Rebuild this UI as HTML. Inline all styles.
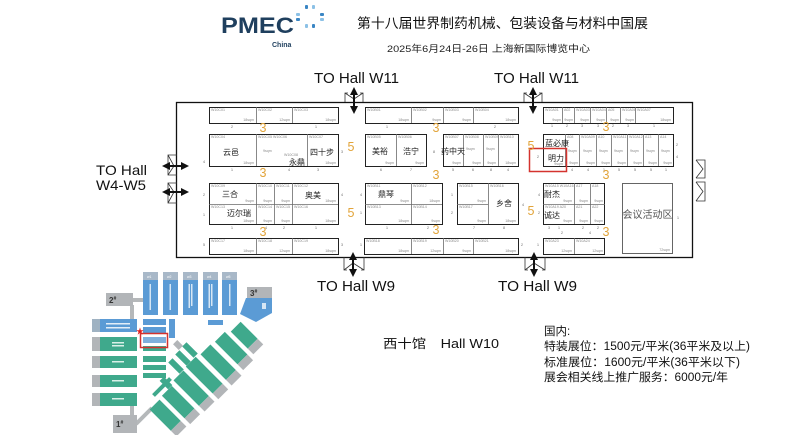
<!DOCTYPE html>
<html><head><meta charset="utf-8">
<style>
html,body{margin:0;padding:0;background:#fff;}
svg{display:block;}
text{font-family:"Liberation Sans","Noto Sans CJK SC",sans-serif;}
.t{font-size:3.6px;fill:#8a8a8a;}
.s{font-size:3.6px;fill:#8a8a8a;text-anchor:end;}
.n{font-size:4px;fill:#777;text-anchor:middle;}
.c{font-size:8px;fill:#222;text-anchor:middle;}
.o{font-size:12.5px;fill:#e2a43a;text-anchor:middle;}
.b{fill:none;stroke:#222;stroke-width:1;}
.d{stroke:#6a6a6a;stroke-width:0.8;}
.ar{stroke:#111;stroke-width:2;}
.br{fill:none;stroke:#333;stroke-width:0.8;}
.g{fill:#3fa98c;}
.bl{fill:#5b9bd5;}
.gr{fill:#b2b5b8;}
.mt{font-size:3.5px;fill:#fff;}
</style></head><body>
<svg width="797" height="435" viewBox="0 0 797 435" xmlns="http://www.w3.org/2000/svg">
<rect width="797" height="435" fill="#fff"/>

<!-- Header -->
<text x="221" y="33" font-size="22" font-weight="bold" fill="#1f3f5e" textLength="73" lengthAdjust="spacingAndGlyphs">PMEC</text>
<text x="272" y="47" font-size="7" font-weight="bold" fill="#1f3f5e">China</text>
<g>
<rect x="305" y="5" width="3" height="4" rx="1" fill="#3a86c4"/>
<rect x="312" y="5" width="3" height="4" rx="1" fill="#8cc1e6"/>
<rect x="296" y="13" width="4" height="3" rx="1" fill="#8cc1e6"/>
<rect x="296" y="18" width="4" height="3" rx="1" fill="#3a86c4"/>
<rect x="320" y="13" width="4" height="3" rx="1" fill="#3a86c4"/>
<rect x="320" y="18" width="4" height="3" rx="1" fill="#8cc1e6"/>
<rect x="305" y="24" width="3" height="4" rx="1" fill="#8cc1e6"/>
<rect x="312" y="24" width="3" height="4" rx="1" fill="#3a86c4"/>
</g>
<text x="357" y="28" font-size="13.5" fill="#111" textLength="291" lengthAdjust="spacingAndGlyphs">第十八届世界制药机械、包装设备与材料中国展</text>
<text x="387" y="52" font-size="9.5" fill="#222" textLength="203" lengthAdjust="spacingAndGlyphs">2025年6月24日-26日 上海新国际博览中心</text>

<!-- TO Hall labels -->
<text x="314" y="83" font-size="15" fill="#111" textLength="85" lengthAdjust="spacingAndGlyphs">TO  Hall  W11</text>
<text x="494" y="83" font-size="15" fill="#111" textLength="85" lengthAdjust="spacingAndGlyphs">TO  Hall  W11</text>
<text x="317" y="291" font-size="15" fill="#111" textLength="78" lengthAdjust="spacingAndGlyphs">TO  Hall  W9</text>
<text x="498" y="291" font-size="15" fill="#111" textLength="79" lengthAdjust="spacingAndGlyphs">TO  Hall  W9</text>
<text x="96" y="175" font-size="14" fill="#111" textLength="51" lengthAdjust="spacingAndGlyphs">TO  Hall</text>
<text x="96" y="190" font-size="14" fill="#111" textLength="50" lengthAdjust="spacingAndGlyphs">W4-W5</text>

<!-- Hall outline -->
<rect x="176.5" y="102.5" width="516" height="155" fill="none" stroke="#111" stroke-width="1.3"/>

<!-- Top doors -->
<path class="br" d="M348,93 H345 V102 M360,93 H363 V102 M345,93 L354,99 L363,93"/>
<line class="ar" x1="354" y1="93" x2="354" y2="108"/>
<polygon points="354,87 350,95 358,95" fill="#111"/>
<polygon points="354,114 350,106 358,106" fill="#111"/>
<path class="br" d="M527,93 H524 V102 M539,93 H542 V102 M524,93 L533,99 L542,93"/>
<line class="ar" x1="533" y1="93" x2="533" y2="108"/>
<polygon points="533,87 529,95 537,95" fill="#111"/>
<polygon points="533,114 529,106 537,106" fill="#111"/>

<!-- Bottom doors -->
<path class="br" d="M344,257 V270 H347 M364,257 V270 H361 M344,270 L353,263 L364,270"/>
<line class="ar" x1="353" y1="258" x2="353" y2="271"/>
<polygon points="353,252 349,260 357,260" fill="#111"/>
<polygon points="353,277 349,269 357,269" fill="#111"/>
<path class="br" d="M525,257 V270 H528 M545,257 V270 H542 M525,270 L534,263 L545,270"/>
<line class="ar" x1="534" y1="258" x2="534" y2="271"/>
<polygon points="534,252 530,260 538,260" fill="#111"/>
<polygon points="534,277 530,269 538,269" fill="#111"/>

<!-- Left doors -->
<path class="br" d="M177,155 H168 V175 H177 M168,155 L174,166 L168,175"/>
<path class="br" d="M177,183 H168 V203 H177 M168,183 L174,192 L168,203"/>
<line class="ar" x1="168" y1="166" x2="183" y2="166"/>
<polygon points="162,166 170,162 170,170" fill="#111"/>
<polygon points="189,166 181,162 181,170" fill="#111"/>
<line class="ar" x1="168" y1="192" x2="183" y2="192"/>
<polygon points="162,192 170,188 170,196" fill="#111"/>
<polygon points="189,192 181,188 181,196" fill="#111"/>

<!-- Right doors -->
<path class="br" d="M696,160 H705 V178 H696 M696,160 L703,169 L696,178"/>
<path class="br" d="M696,182 H705 V201 H696 M696,182 L703,191.5 L696,201"/>

<!-- ===== Group A ===== -->
<rect class="b" x="209.5" y="107.5" width="129" height="16"/>
<line class="d" x1="256.5" y1="107" x2="256.5" y2="123"/>
<line class="d" x1="292.5" y1="107" x2="292.5" y2="123"/>
<text class="t" x="211" y="111">W10C01</text><text class="s" x="254" y="121">18sqm</text>
<text class="t" x="258" y="111">W10C02</text><text class="s" x="290" y="121">12sqm</text>
<text class="t" x="294" y="111">W10C03</text><text class="s" x="336" y="121">18sqm</text>
<text class="n" x="232" y="128">2</text><text class="n" x="316" y="128">1</text>

<rect class="b" x="209.5" y="134.5" width="129" height="32"/>
<line class="d" x1="256.5" y1="134" x2="256.5" y2="166"/>
<line class="d" x1="307.5" y1="134" x2="307.5" y2="166"/>
<text class="t" x="211" y="138">W10C04</text><text class="s" x="254" y="164">18sqm</text>
<text class="t" x="258" y="138">W10C05 W10C06</text><text class="s" x="305" y="164">9sqm</text>
<text class="t" x="309" y="138">W10C07</text><text class="s" x="336" y="164">18sqm</text>
<text class="t" x="263" y="152">9sqm</text><text class="t" x="284" y="156">W10C08</text>
<text class="c" x="231" y="155">云邑</text>
<text class="c" x="297" y="165">永鼎</text>
<text class="c" x="322" y="155">四十步</text>
<text class="n" x="232" y="171">1</text><text class="n" x="289" y="171">4</text><text class="n" x="318" y="171">3</text>

<rect class="b" x="209.5" y="183.5" width="129" height="41"/>
<line class="d" x1="209" y1="204.5" x2="338" y2="204.5"/>
<line class="d" x1="256.5" y1="183" x2="256.5" y2="224"/>
<line class="d" x1="274.5" y1="183" x2="274.5" y2="224"/>
<line class="d" x1="292.5" y1="183" x2="292.5" y2="224"/>
<text class="t" x="211" y="187">W10C09</text><text class="t" x="258" y="187">W10C10</text><text class="t" x="276" y="187">W10C11</text><text class="t" x="294" y="187">W10C12</text>
<text class="s" x="254" y="202">9sqm</text><text class="s" x="272" y="202">9sqm</text><text class="s" x="290" y="202">9sqm</text><text class="s" x="336" y="202">18sqm</text>
<text class="t" x="211" y="208">W10C13</text><text class="t" x="258" y="208">W10C14</text><text class="t" x="276" y="208">W10C15</text><text class="t" x="294" y="208">W10C16</text>
<text class="s" x="254" y="222">18sqm</text><text class="s" x="272" y="222">9sqm</text><text class="s" x="290" y="222">9sqm</text><text class="s" x="336" y="222">18sqm</text>
<text class="c" x="230" y="197">三合</text>
<text class="c" x="313" y="198">奥美</text>
<text class="c" x="239" y="216">迈尔瑞</text>
<text class="n" x="232" y="229">1</text><text class="n" x="266" y="229">4</text><text class="n" x="284" y="229">2</text><text class="n" x="316" y="229">1</text>

<rect class="b" x="209.5" y="238.5" width="129" height="16"/>
<line class="d" x1="256.5" y1="238" x2="256.5" y2="254"/>
<line class="d" x1="292.5" y1="238" x2="292.5" y2="254"/>
<text class="t" x="211" y="242">W10C17</text><text class="s" x="254" y="252">18sqm</text>
<text class="t" x="258" y="242">W10C18</text><text class="s" x="290" y="252">12sqm</text>
<text class="t" x="294" y="242">W10C19</text><text class="s" x="336" y="252">18sqm</text>
<text class="n" x="204" y="163">4</text><text class="n" x="204" y="196">2</text><text class="n" x="204" y="216">1</text><text class="n" x="204" y="246">5</text>
<text class="n" x="342" y="153">3</text><text class="n" x="342" y="196">4</text><text class="n" x="342" y="246">3</text>

<!-- ===== Group B ===== -->
<rect class="b" x="365.5" y="107.5" width="153" height="16"/>
<line class="d" x1="411.5" y1="107" x2="411.5" y2="123"/>
<line class="d" x1="443.5" y1="107" x2="443.5" y2="123"/>
<line class="d" x1="473.5" y1="107" x2="473.5" y2="123"/>
<text class="t" x="367" y="111">W10B01</text><text class="s" x="409" y="121">18sqm</text>
<text class="t" x="413" y="111">W10B02</text><text class="s" x="441" y="121">9sqm</text>
<text class="t" x="445" y="111">W10B03</text><text class="s" x="471" y="121">9sqm</text>
<text class="t" x="475" y="111">W10B04</text><text class="s" x="516" y="121">18sqm</text>
<text class="n" x="387" y="128">1</text><text class="n" x="495" y="128">2</text>

<rect class="b" x="365.5" y="134.5" width="61" height="32"/>
<line class="d" x1="396.5" y1="134" x2="396.5" y2="166"/>
<text class="t" x="367" y="138">W10B05</text><text class="t" x="398" y="138">W10B06</text>
<text class="s" x="394" y="164">9sqm</text><text class="s" x="424" y="164">9sqm</text>
<text class="c" x="380" y="154">美裕</text>
<text class="c" x="411" y="154">浩宁</text>
<text class="n" x="381" y="171">6</text><text class="n" x="411" y="171">7</text><text class="n" x="434" y="153">8</text>

<rect class="b" x="443.5" y="134.5" width="75" height="32"/>
<line class="d" x1="463.5" y1="134" x2="463.5" y2="166"/>
<line class="d" x1="483.5" y1="134" x2="483.5" y2="166"/>
<line class="d" x1="498.5" y1="134" x2="498.5" y2="166"/>
<text class="t" x="445" y="138">W10B07</text><text class="t" x="465" y="138">W10B08</text><text class="t" x="485" y="138">W10B09</text><text class="t" x="500" y="138">W10B10</text>
<text class="s" x="461" y="164">9sqm</text><text class="s" x="481" y="164">9sqm</text><text class="s" x="496" y="164">9sqm</text><text class="s" x="516" y="164">18sqm</text>
<text class="t" x="466" y="150">9sqm</text><text class="t" x="486" y="150">9sqm</text>
<text class="c" x="453" y="154">药中天</text>
<text class="n" x="453" y="171">5</text><text class="n" x="473" y="171">6</text><text class="n" x="491" y="171">8</text><text class="n" x="508" y="171">4</text>

<rect class="b" x="365.5" y="183.5" width="77" height="41"/>
<line class="d" x1="411.5" y1="183" x2="411.5" y2="224"/>
<line class="d" x1="365" y1="204.5" x2="442" y2="204.5"/>
<text class="t" x="367" y="187">W10B11</text><text class="t" x="413" y="187">W10B12</text>
<text class="t" x="367" y="208">W10B13</text><text class="t" x="413" y="208">W10B14</text>
<text class="s" x="409" y="202">9sqm</text><text class="s" x="440" y="202">18sqm</text>
<text class="s" x="409" y="222">18sqm</text><text class="s" x="440" y="222">9sqm</text>
<text class="c" x="386" y="197">鼎琴</text>
<text class="n" x="387" y="229">1</text><text class="n" x="428" y="229">2</text>

<rect class="b" x="457.5" y="183.5" width="61" height="41"/>
<line class="d" x1="488.5" y1="183" x2="488.5" y2="224"/>
<line class="d" x1="457" y1="204.5" x2="488" y2="204.5"/>
<text class="t" x="459" y="187">W10B15</text><text class="t" x="490" y="187">W10B16</text>
<text class="t" x="459" y="208">W10B17</text>
<text class="s" x="486" y="202">9sqm</text><text class="s" x="486" y="222">9sqm</text><text class="s" x="516" y="222">18sqm</text>
<text class="c" x="504" y="206">乡舍</text>
<text class="n" x="474" y="229">7</text><text class="n" x="504" y="229">8</text>
<text class="n" x="361" y="196">4</text><text class="n" x="361" y="214">1</text><text class="n" x="452" y="196">1</text><text class="n" x="452" y="214">2</text><text class="n" x="523" y="206">4</text>

<rect class="b" x="364.5" y="238.5" width="154" height="16"/>
<line class="d" x1="411.5" y1="238" x2="411.5" y2="254"/>
<line class="d" x1="443.5" y1="238" x2="443.5" y2="254"/>
<line class="d" x1="473.5" y1="238" x2="473.5" y2="254"/>
<text class="t" x="366" y="242">W10B18</text><text class="s" x="409" y="252">18sqm</text>
<text class="t" x="413" y="242">W10B19</text><text class="s" x="441" y="252">12sqm</text>
<text class="t" x="445" y="242">W10B20</text><text class="s" x="471" y="252">9sqm</text>
<text class="t" x="475" y="242">W10B21</text><text class="s" x="516" y="252">18sqm</text>
<text class="n" x="361" y="246">1</text><text class="n" x="522" y="246">2</text>

<!-- ===== Group C ===== -->
<rect class="b" x="543.5" y="107.5" width="130" height="16"/>
<line class="d" x1="562.5" y1="107" x2="562.5" y2="123"/>
<line class="d" x1="574.5" y1="107" x2="574.5" y2="123"/>
<line class="d" x1="590.5" y1="107" x2="590.5" y2="123"/>
<line class="d" x1="606.5" y1="107" x2="606.5" y2="123"/>
<line class="d" x1="620.5" y1="107" x2="620.5" y2="123"/>
<line class="d" x1="635.5" y1="107" x2="635.5" y2="123"/>
<text class="t" x="545" y="111">W10A01</text><text class="t" x="564" y="111">A02</text><text class="t" x="576" y="111">W10A03</text><text class="t" x="592" y="111">W10A04</text><text class="t" x="608" y="111">A05</text><text class="t" x="622" y="111">W10A06</text><text class="t" x="637" y="111">W10A07</text>
<text class="s" x="561" y="121">9sqm</text><text class="s" x="573" y="121">9sqm</text><text class="s" x="589" y="121">9sqm</text><text class="s" x="605" y="121">9sqm</text><text class="s" x="619" y="121">9sqm</text><text class="s" x="634" y="121">9sqm</text><text class="s" x="671" y="121">18sqm</text>
<text class="n" x="552" y="127">1</text><text class="n" x="567" y="127">2</text><text class="n" x="582" y="127">3</text><text class="n" x="598" y="127">3</text><text class="n" x="613" y="127">2</text><text class="n" x="628" y="127">3</text><text class="n" x="654" y="127">1</text>

<rect class="b" x="543.5" y="134.5" width="130" height="32"/>
<line class="d" x1="543" y1="148.5" x2="565" y2="148.5"/>
<line class="d" x1="565.5" y1="134" x2="565.5" y2="166"/>
<line class="d" x1="579.5" y1="134" x2="579.5" y2="166"/>
<line class="d" x1="596.5" y1="134" x2="596.5" y2="166"/>
<line class="d" x1="611.5" y1="134" x2="611.5" y2="166"/>
<line class="d" x1="627.5" y1="134" x2="627.5" y2="166"/>
<line class="d" x1="643.5" y1="134" x2="643.5" y2="166"/>
<line class="d" x1="658.5" y1="134" x2="658.5" y2="166"/>
<text class="t" x="567" y="138">A08</text><text class="t" x="581" y="138">W10A09</text><text class="t" x="598" y="138">A10</text><text class="t" x="613" y="138">W10A11</text><text class="t" x="629" y="138">W10A12</text><text class="t" x="645" y="138">A13</text><text class="t" x="660" y="138">A14</text>
<text class="t" x="568" y="152">9sqm</text><text class="t" x="583" y="152">9sqm</text><text class="t" x="599" y="152">9sqm</text><text class="t" x="614" y="152">9sqm</text><text class="t" x="630" y="152">9sqm</text><text class="t" x="646" y="152">9sqm</text><text class="t" x="661" y="152">9sqm</text>
<text class="s" x="578" y="164">9sqm</text><text class="s" x="595" y="164">9sqm</text><text class="s" x="610" y="164">9sqm</text><text class="s" x="626" y="164">9sqm</text><text class="s" x="642" y="164">9sqm</text><text class="s" x="657" y="164">9sqm</text><text class="s" x="672" y="164">9sqm</text>
<text class="c" x="557" y="146" font-size="7">蓝必康</text>
<text class="c" x="556" y="161">明力</text>
<text class="s" x="563" y="165">9sqm</text>
<text class="n" x="572" y="171">4</text><text class="n" x="588" y="171">4</text><text class="n" x="604" y="171">1</text><text class="n" x="619" y="171">5</text><text class="n" x="635" y="171">5</text><text class="n" x="651" y="171">5</text><text class="n" x="666" y="171">1</text>
<text class="n" x="677" y="146">2</text><text class="n" x="677" y="158">4</text><text class="n" x="538" y="158">2</text>

<rect x="529.5" y="148.5" width="37" height="23" fill="none" stroke="#d4332e" stroke-width="1.5"/>

<rect class="b" x="543.5" y="183.5" width="61" height="41"/>
<line class="d" x1="543" y1="204.5" x2="605" y2="204.5"/>
<line class="d" x1="574.5" y1="183" x2="574.5" y2="224"/>
<line class="d" x1="590.5" y1="183" x2="590.5" y2="224"/>
<text class="t" x="545" y="187">W10A15 W10A16</text><text class="t" x="576" y="187">A17</text><text class="t" x="592" y="187">A18</text>
<text class="t" x="545" y="208">W10A19 A20</text><text class="t" x="576" y="208">A21</text><text class="t" x="592" y="208">A22</text>
<text class="s" x="572" y="202">9sqm</text><text class="s" x="588" y="202">9sqm</text><text class="s" x="603" y="202">9sqm</text>
<text class="s" x="572" y="222">9sqm</text><text class="s" x="588" y="222">9sqm</text><text class="s" x="603" y="222">9sqm</text>
<text class="c" x="552" y="197" font-size="7">耐杰</text>
<text class="c" x="552" y="218" font-size="7">诚达</text>
<text class="n" x="549" y="229">3</text><text class="n" x="559" y="229">1</text><text class="n" x="583" y="229">2</text><text class="n" x="598" y="229">2</text>
<text class="n" x="562" y="234">2</text><text class="n" x="590" y="234">4</text>
<text class="n" x="539" y="196">4</text><text class="n" x="539" y="214">2</text>

<rect x="622.5" y="183.5" width="50" height="70" fill="none" stroke="#555" stroke-width="0.9"/>
<text x="647.5" y="218" font-size="10" fill="#555" text-anchor="middle">会议活动区</text>
<text class="s" x="670" y="251">72sqm</text>
<text class="n" x="678" y="219">1</text>

<rect class="b" x="543.5" y="238.5" width="61" height="16"/>
<line class="d" x1="574.5" y1="238" x2="574.5" y2="254"/>
<text class="t" x="545" y="242">W10A23</text><text class="s" x="572" y="252">12sqm</text>
<text class="t" x="576" y="242">W10A24</text><text class="s" x="603" y="252">12sqm</text>
<text class="n" x="538" y="246">1</text>

<!-- Aisle numbers -->
<text class="o" x="263" y="132">3</text>
<text class="o" x="263" y="177">3</text>
<text class="o" x="263" y="236">3</text>
<text class="o" x="436" y="132">3</text>
<text class="o" x="436" y="179">3</text>
<text class="o" x="436" y="234">3</text>
<text class="o" x="606" y="131">3</text>
<text class="o" x="606" y="179">3</text>
<text class="o" x="606" y="236">3</text>
<text class="o" x="351" y="151">5</text>
<text class="o" x="351" y="217">5</text>
<text class="o" x="531" y="150">5</text>
<text class="o" x="531" y="215">5</text>

<!-- Bottom text -->
<text x="383" y="348" font-size="12.5" fill="#111" textLength="116" lengthAdjust="spacingAndGlyphs">西十馆　Hall  W10</text>
<text x="544" y="335" font-size="11.5" fill="#111">国内:</text>
<text x="544" y="350" font-size="11.5" fill="#111" textLength="206" lengthAdjust="spacingAndGlyphs">特装展位：1500元/平米(36平米及以上)</text>
<text x="544" y="366" font-size="11.5" fill="#111" textLength="196" lengthAdjust="spacingAndGlyphs">标准展位：1600元/平米(36平米以下)</text>
<text x="544" y="381" font-size="11.5" fill="#111" textLength="184" lengthAdjust="spacingAndGlyphs">展会相关线上推广服务：6000元/年</text>

<!-- ===== Mini map ===== -->
<g>
<path d="M133,300 H143" stroke="#b5b8ba" stroke-width="4"/>
<path d="M132,305 V320" stroke="#b5b8ba" stroke-width="4"/>
<path d="M132,406 V416" stroke="#b5b8ba" stroke-width="4"/>
<path d="M136,424 L152,408" stroke="#b5b8ba" stroke-width="4"/>
<rect class="gr" x="106" y="293" width="27" height="13"/>
<text x="109" y="303" font-size="8" font-weight="bold" fill="#333">2<tspan font-size="5" dy="-3">#</tspan></text>

<rect x="143" y="272" width="15" height="8" fill="#a8b8c8"/><rect class="bl" x="143" y="280" width="15" height="35"/>
<rect x="163" y="272" width="15" height="8" fill="#a8b8c8"/><rect class="bl" x="163" y="280" width="15" height="35"/>
<rect x="183" y="272" width="15" height="8" fill="#a8b8c8"/><rect class="bl" x="183" y="280" width="15" height="35"/>
<rect x="203" y="272" width="15" height="8" fill="#a8b8c8"/><rect class="bl" x="203" y="280" width="15" height="35"/>
<rect x="222" y="272" width="15" height="8" fill="#a8b8c8"/><rect class="bl" x="222" y="280" width="15" height="35"/>
<text class="mt" x="147" y="278">w1</text><text class="mt" x="167" y="278">w2</text><text class="mt" x="187" y="278">w3</text><text class="mt" x="207" y="278">w4</text><text class="mt" x="226" y="278">w5</text>
<rect x="149.5" y="284" width="1.5" height="26" fill="#d6e6f4"/>
<rect x="169.5" y="284" width="1.5" height="26" fill="#d6e6f4"/>
<rect x="188.5" y="284" width="1.5" height="24" fill="#d6e6f4"/><rect x="191" y="284" width="1.5" height="22" fill="#d6e6f4"/>
<rect x="208.5" y="284" width="1.5" height="24" fill="#d6e6f4"/><rect x="211" y="284" width="1.5" height="22" fill="#d6e6f4"/>
<rect x="229" y="284" width="1.5" height="22" fill="#d6e6f4"/>

<rect class="gr" x="247" y="287" width="25" height="11"/>
<text x="250" y="296" font-size="8" font-weight="bold" fill="#333">3<tspan font-size="5" dy="-3">#</tspan></text>
<polygon class="bl" points="246,298 272,298 272,313 256,322 240,314"/>
<rect x="262" y="303" width="4" height="6" fill="#d6e6f4"/>

<rect x="92" y="319" width="8" height="13" fill="#9fb2c2"/><rect class="bl" x="100" y="319" width="37" height="13"/>
<rect x="92" y="337" width="8" height="14" class="gr"/><rect class="g" x="100" y="337" width="37" height="14"/>
<rect x="92" y="356" width="8" height="12" class="gr"/><rect class="g" x="100" y="356" width="37" height="12"/>
<rect x="92" y="375" width="8" height="12" class="gr"/><rect class="g" x="100" y="375" width="37" height="12"/>
<rect x="92" y="393" width="8" height="13" class="gr"/><rect class="g" x="100" y="393" width="37" height="13"/>
<rect x="106" y="323" width="24" height="1.5" fill="#e3eef8"/><rect x="106" y="327" width="24" height="1.5" fill="#e3eef8"/>
<rect x="112" y="342" width="12" height="1.5" fill="#d9f0e8"/><rect x="112" y="345" width="12" height="1.5" fill="#d9f0e8"/>
<rect x="112" y="361" width="12" height="1.5" fill="#d9f0e8"/>
<rect x="112" y="380" width="12" height="1.5" fill="#d9f0e8"/>
<rect x="112" y="398" width="12" height="1.5" fill="#d9f0e8"/>

<rect class="bl" x="143" y="319" width="23" height="6"/>
<rect class="bl" x="143" y="327" width="23" height="6"/>
<rect x="143" y="337" width="23" height="6" fill="#7fb0dc"/>
<rect class="g" x="143" y="346" width="23" height="5"/>
<rect class="g" x="143" y="356" width="23" height="6"/>
<rect class="g" x="143" y="365" width="23" height="5"/>
<rect class="g" x="143" y="373" width="23" height="5"/>
<rect class="bl" x="169" y="319" width="6" height="19"/>
<rect class="bl" x="208" y="320" width="15" height="5"/>
<rect x="140.5" y="333.5" width="27" height="14" fill="none" stroke="#d4332e" stroke-width="1.5"/>
<text x="136" y="334" font-size="8" fill="#e02020">★</text>

<!-- diagonal bars -->
<g transform="translate(168,418) rotate(45)"><rect class="g" x="-19" y="-7" width="30" height="14"/><rect class="gr" x="11" y="-7" width="8" height="14"/></g>
<g transform="translate(181,405) rotate(45)"><rect class="g" x="-20" y="-7" width="32" height="14"/><rect class="gr" x="12" y="-7" width="8" height="14"/></g>
<g transform="translate(194,391) rotate(45)"><rect class="g" x="-22" y="-7" width="36" height="14"/><rect class="gr" x="14" y="-7" width="8" height="14"/></g>
<g transform="translate(207,378) rotate(45)"><rect class="g" x="-23" y="-7" width="38" height="14"/><rect class="gr" x="15" y="-7" width="8" height="14"/></g>
<g transform="translate(221,365) rotate(45)"><rect class="g" x="-22" y="-7" width="36" height="14"/><rect class="gr" x="14" y="-7" width="8" height="14"/></g>
<g transform="translate(234,351) rotate(45)"><rect class="g" x="-20" y="-7" width="32" height="14"/><rect class="gr" x="12" y="-7" width="8" height="14"/></g>
<g transform="translate(247,338) rotate(45)"><rect class="g" x="-16" y="-7" width="24" height="14"/><rect class="gr" x="8" y="-7" width="8" height="14"/></g>
<g transform="translate(162,387) rotate(-45)"><rect class="g" x="-12" y="-2" width="24" height="4"/></g>
<g transform="translate(166,383) rotate(45)"><rect class="g" x="-6" y="-3" width="12" height="6"/></g>
<g transform="translate(176,366) rotate(45)"><rect class="g" x="-8" y="-3" width="16" height="6"/></g>
<g transform="translate(183,358) rotate(45)"><rect class="g" x="-8" y="-3" width="16" height="6"/></g>
<g transform="translate(190,350) rotate(45)"><rect class="g" x="-8" y="-3" width="16" height="6"/></g>
<g transform="translate(178,345) rotate(45)"><rect class="gr" x="-4" y="-3" width="8" height="6"/></g>

<rect class="gr" x="113" y="415" width="24" height="18"/>
<text x="116" y="427" font-size="8" font-weight="bold" fill="#333">1<tspan font-size="5" dy="-3">#</tspan></text>
</g>
</svg>
</body></html>
